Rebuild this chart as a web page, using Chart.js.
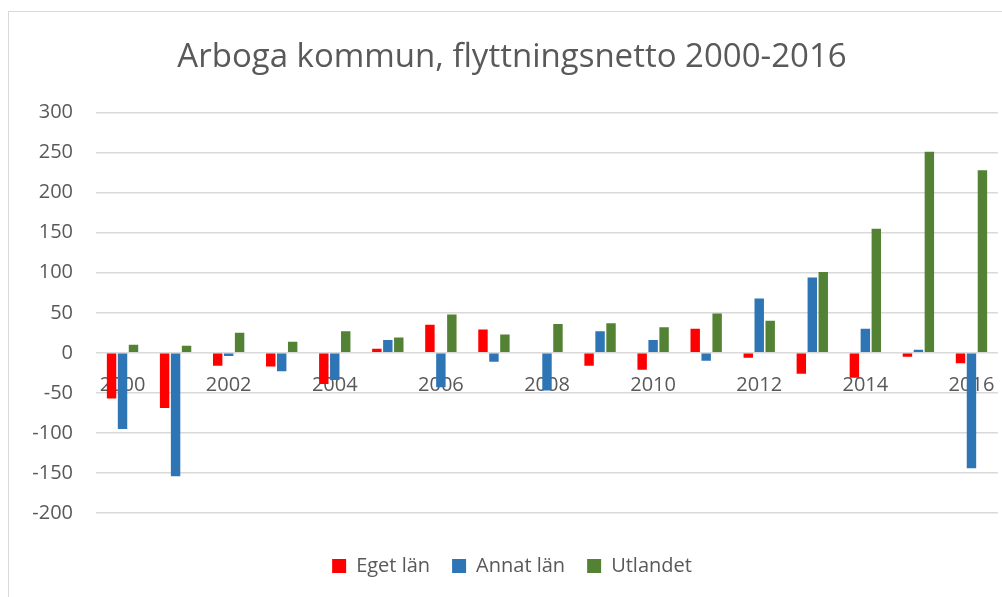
<!DOCTYPE html>
<html>
<head>
<meta charset="utf-8">
<script src="https://cdn.jsdelivr.net/npm/chart.js@4/dist/chart.umd.min.js"></script>
<style>
    html, body { margin: 0; padding: 0; background: #fff; }
    #wrap { position: relative; width: 1002px; height: 597px; overflow: hidden; }
    #frame { position: absolute; left: 8px; top: 11px; width: 1100px; height: 700px; border: 1.5px solid #d9d9d9; box-sizing: border-box; }
    #chart { position: absolute; left: 0; top: 0; }
</style>
</head>
<body>
<div id="wrap">
    <div id="frame"></div>
    <canvas id="chart" width="1002" height="597"></canvas>
</div>
<script>
const years = ["2000", "2001", "2002", "2003", "2004", "2005", "2006", "2007", "2008",
    "2009", "2010", "2011", "2012", "2013", "2014", "2015", "2016"];
const egetLan = [-57, -69, -16, -17, -39, 5, 35, 29, 0, -16, -21, 30, -6, -26, -31, -5, -13];
const annatLan = [-95, -154, -4, -23, -34, 16, -43, -11, -47, 27, 16, -10, 68, 94, 30, 4, -144];
const utlandet = [10, 9, 25, 14, 27, 19, 48, 23, 36, 37, 32, 49, 40, 101, 155, 251, 228];
const yTicks = [300, 250, 200, 150, 100, 50, 0, -50, -100, -150, -200];

const textColor = "#595959";
const fontName = "'Open Sans', 'Noto Sans', sans-serif";

function bars(label, values, color) {
    return {
        label: label,
        data: values,
        backgroundColor: color,
        categoryPercentage: 0.62,
        barPercentage: 0.86
    };
}

const ctx = document.getElementById("chart");
const chart = new Chart(ctx, {
    type: "bar",
    data: {
        labels: years,
        datasets: [
            bars("Eget län", egetLan, "#ff0000"),
            bars("Annat län", annatLan, "#2e75b6"),
            bars("Utlandet", utlandet, "#548235")
        ]
    },
    options: {
        responsive: false,
        animation: false,
        layout: { padding: { left: 26, right: 4, top: 0, bottom: 11 } },
        plugins: {
            title: {
                display: true,
                text: "Arboga kommun, flyttningsnetto 2000-2016",
                color: textColor,
                font: { family: fontName, size: 33, weight: "normal" },
                padding: { top: 38, bottom: 35 }
            },
            legend: {
                position: "bottom",
                labels: {
                    color: textColor,
                    boxWidth: 14,
                    boxHeight: 14,
                    padding: 22,
                    font: { family: fontName, size: 20 }
                }
            },
            tooltip: { enabled: false }
        },
        scales: {
            x: {
                position: { y: 0 },
                grid: { display: false, drawTicks: false },
                border: { display: false },
                // labels sit inside the plot, so they need no extra side room
                afterFit: function (scale) {
                    scale.paddingLeft = 0;
                    scale.paddingRight = 0;
                },
                ticks: {
                    autoSkip: false,
                    maxRotation: 0,
                    padding: 20,
                    color: textColor,
                    font: { family: fontName, size: 20 },
                    callback: function (value, index) {
                        return index % 2 === 0 ? this.getLabelForValue(value) : "";
                    }
                }
            },
            // empty axis that only keeps a gap between the plot and the legend
            gap: {
                type: "category",
                axis: "x",
                position: "bottom",
                grid: { display: false, drawTicks: false },
                border: { display: false },
                ticks: { display: false },
                afterFit: function (scale) { scale.height = 21; }
            },
            y: {
                min: -200,
                max: 300,
                afterFit: function (scale) { scale.width = 70; },
                afterBuildTicks: function (scale) {
                    scale.ticks = yTicks.map(v => ({ value: v }));
                },
                grid: { color: "#d9d9d9", lineWidth: 1.5, drawTicks: false },
                border: { display: false },
                ticks: {
                    padding: 23,
                    color: textColor,
                    font: { family: fontName, size: 20 }
                }
            }
        }
    }
});
</script>
</body>
</html>
